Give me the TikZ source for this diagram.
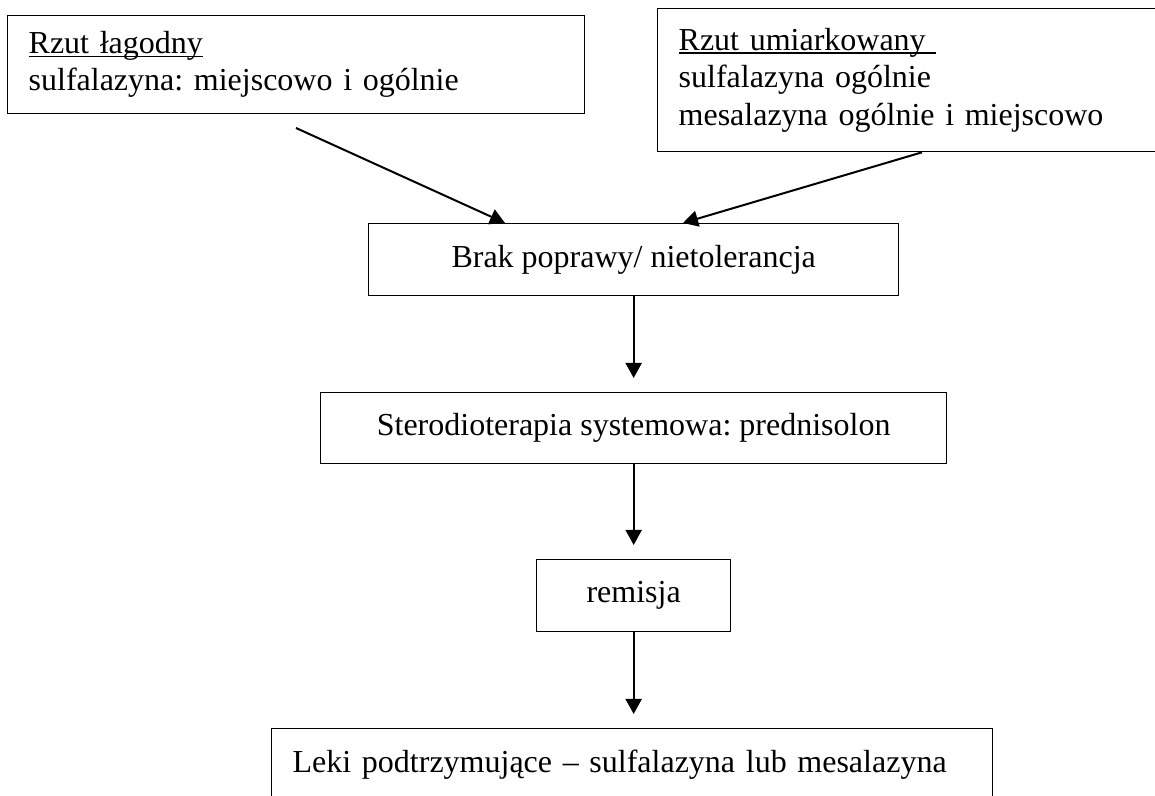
\documentclass[tikz,border=0pt]{standalone}
\usepackage{fontspec}
\setmainfont{Liberation Serif}
\usepackage{tikz}
\usetikzlibrary{arrows.meta, positioning, calc}
\newcommand{\pxu}{0.375pt}
\newcommand{\undr}[1]{\setbox0\hbox{#1}\rlap{\rule[-0.11em]{\wd0}{0.05em}}\box0}
\frenchspacing

\begin{document}
\begin{tikzpicture}[x=\pxu, y=-\pxu,
    every node/.style={font=\fontsize{12pt}{14pt}\selectfont},
    box/.style={draw, line width=0.5pt, anchor=north west, inner sep=0pt, inner xsep=21*\pxu},
    arr/.style={-{Triangle[length=15*\pxu, width=16*\pxu]}, line width=0.75pt}]
  \useasboundingbox (0,0) rectangle (1155,796);
  \clip (0,0) rectangle (1155,796);
  % Boxes
  \node[box, text width=535*\pxu, minimum height=98*\pxu, align=left] (lagodny) at (7,15)
    {\undr{Rzut łagodny}\\ sulfalazyna: miejscowo i ogólnie};
  \node[box, text width=480*\pxu, minimum height=143*\pxu, align=left] (umiark) at (657,8)
    {\undr{Rzut umiarkowany }\\ sulfalazyna ogólnie\\ mesalazyna ogólnie i miejscowo};
  \node[box, minimum width=530*\pxu, minimum height=72*\pxu] (brak) at (368,223) {Brak poprawy/ nietolerancja};
  \node[box, minimum width=626*\pxu, minimum height=71*\pxu] (stero) at (320,392) {Sterodioterapia systemowa: prednisolon};
  \node[box, minimum width=194*\pxu, minimum height=72*\pxu] (remisja) at (536,559) {remisja};
  \node[box, text width=679*\pxu, minimum height=72*\pxu, align=left] (leki) at (271,728)
    {Leki podtrzymujące – sulfalazyna lub mesalazyna};
  % Arrows
  \coordinate (lagodnyEnd) at (296,128);
  \draw[arr] (lagodnyEnd) -- ($(brak.north west)+(137,0)$);
  \draw[arr] ($(umiark.south west)+(265,0)$) -- ($(brak.north west)+(315,0)$);
  \draw[arr, shorten >=14*\pxu] (brak.south) -- (stero.north);
  \draw[arr, shorten >=14*\pxu] (stero.south) -- (remisja.north);
  \draw[arr, shorten >=14*\pxu] (remisja.south) -- (remisja.south |- leki.north);
\end{tikzpicture}
\end{document}
